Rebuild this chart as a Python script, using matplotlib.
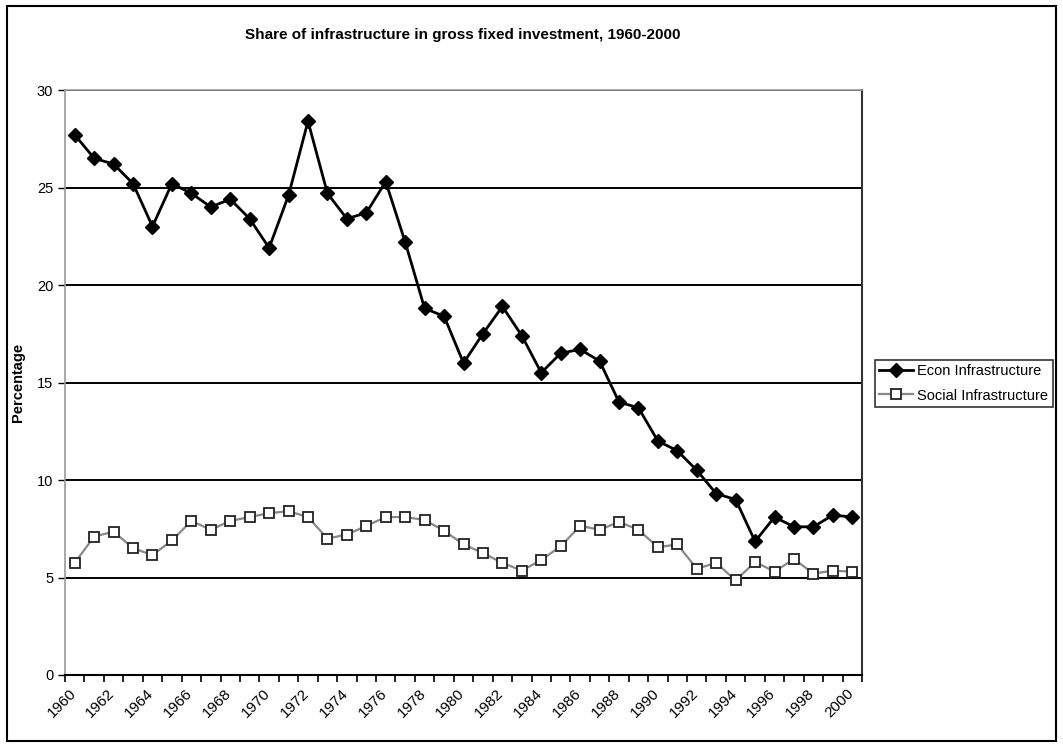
import numpy as np
import matplotlib
matplotlib.use("Agg")
import matplotlib.pyplot as plt
import matplotlib.transforms as mtransforms
from matplotlib.patches import Rectangle

plt.rcParams['font.family'] = ['Liberation Sans', 'DejaVu Sans']

years = list(range(1960, 2001))
econ = [27.7, 26.5, 26.2, 25.2, 23.0, 25.2, 24.7, 24.0, 24.4, 23.4,
        21.9, 24.6, 28.4, 24.7, 23.4, 23.7, 25.3, 22.2, 18.8, 18.4,
        16.0, 17.5, 18.9, 17.4, 15.5, 16.5, 16.7, 16.1, 14.0, 13.7,
        12.0, 11.5, 10.5, 9.3, 9.0, 6.85, 8.1, 7.6, 7.6, 8.2, 8.1]
social = [5.75, 7.1, 7.35, 6.5, 6.15, 6.9, 7.9, 7.45, 7.9, 8.1,
          8.3, 8.4, 8.1, 7.0, 7.2, 7.65, 8.1, 8.1, 7.95, 7.4,
          6.7, 6.25, 5.75, 5.35, 5.9, 6.6, 7.65, 7.45, 7.85, 7.45,
          6.55, 6.7, 5.45, 5.75, 4.85, 5.8, 5.3, 5.95, 5.2, 5.35, 5.3]
yticks = [0, 5, 10, 15, 20, 25, 30]

fig = plt.figure(figsize=(10.63, 7.46), dpi=100)
# рамка вокруг всей картинки
fig.patches.append(Rectangle((7 / 1063, 5 / 746), 1049 / 1063, 735 / 746,
                             transform=fig.transFigure, fill=False,
                             edgecolor='black', linewidth=1.5))

ax = fig.add_axes([65 / 1063, 71 / 746, 797 / 1063, 585 / 746])
x = np.arange(len(years))

for v in yticks[1:]:
    ax.axhline(v, color='black', linewidth=1.4, zorder=1)

ax.plot(x, social, color='#888888', linewidth=1.6, marker='s', markersize=7,
        markerfacecolor='white', markeredgecolor='#222222', markeredgewidth=1.3,
        label='Social Infrastructure', zorder=3)
ax.plot(x, econ, color='black', linewidth=2.0, marker='D', markersize=7.5,
        markerfacecolor='black', markeredgecolor='black',
        label='Econ Infrastructure', zorder=4)

ax.set_xlim(-0.5, len(years) - 0.5)
ax.set_ylim(0, 30)
ax.set_yticks(yticks)
ax.tick_params(axis='y', labelsize=10.5, length=5, width=1, direction='out')
ax.set_xticks(x[::2])
ax.set_xticklabels([str(y) for y in years[::2]], rotation=45, ha='right',
                   rotation_mode='anchor', fontsize=11)
ax.tick_params(axis='x', which='major', length=0, pad=8)
shift = mtransforms.ScaledTranslation(-6 / 100, 0, fig.dpi_scale_trans)
for lab in ax.get_xticklabels():
    lab.set_transform(lab.get_transform() + shift)
ax.set_xticks(np.arange(-0.5, len(years)), minor=True)
ax.tick_params(axis='x', which='minor', length=5, width=1.2, direction='out')

for s in ['left', 'top']:
    ax.spines[s].set_color('#999999')
    ax.spines[s].set_linewidth(1.2)
ax.spines['right'].set_color('#333333')
ax.spines['right'].set_linewidth(1.5)
ax.spines['bottom'].set_color('black')
ax.spines['bottom'].set_linewidth(1.5)

ax.set_ylabel('Percentage', fontsize=10.5, fontweight='bold')
ax.yaxis.set_label_coords(-40 / 797, 0.5)
fig.text(463 / 1063, 1 - 35 / 746,
         'Share of infrastructure in gross fixed investment, 1960-2000',
         ha='center', va='center', fontsize=11, fontweight='bold')

handles, labels = ax.get_legend_handles_labels()
leg = fig.legend(handles[::-1], labels[::-1], loc='upper left',
                 bbox_to_anchor=(875 / 1063, 1 - 360 / 746), fontsize=10.5,
                 frameon=True, fancybox=False, edgecolor='black',
                 handlelength=2.3, borderpad=0.3, labelspacing=0.7,
                 handletextpad=0.3, borderaxespad=0)
leg.get_frame().set_linewidth(1.2)

fig.savefig('out.png', dpi=100)
